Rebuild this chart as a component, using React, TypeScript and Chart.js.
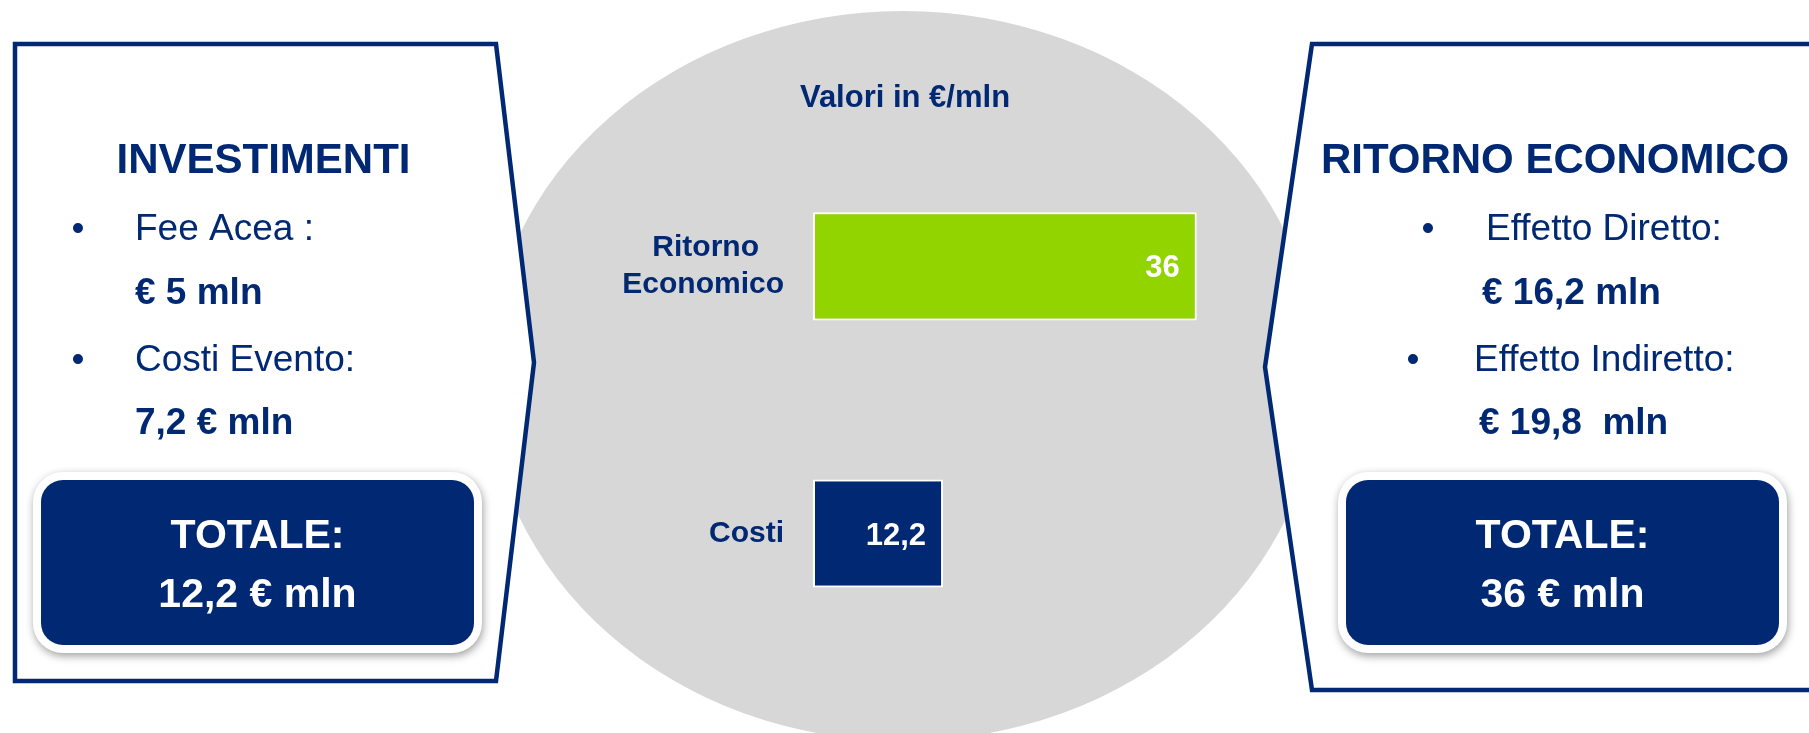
import React, { useEffect, useRef } from 'react';
import { Chart, registerables } from 'chart.js';

Chart.register(...registerables);

// ---- Data ----
const categories: (string | string[])[] = [['Ritorno', 'Economico'], 'Costi'];
const values: number[] = [36, 12.2];
const barColors: string[] = ['#92D400', '#002873'];
const axisMin = 0;
const axisMax = 40;

const unitLabel = 'Valori in €/mln';

const leftTitle = 'INVESTIMENTI';
const leftBullets: string[] = ['Fee Acea :', 'Costi Evento:'];
const leftAmounts: string[] = ['€ 5 mln', '7,2 € mln'];
const leftTotal: string[] = ['TOTALE:', '12,2 € mln'];

const rightTitle = 'RITORNO ECONOMICO';
const rightBullets: string[] = ['Effetto Diretto:', 'Effetto Indiretto:'];
const rightAmounts: string[] = ['€ 16,2 mln', '€ 19,8  mln'];
const rightTotal: string[] = ['TOTALE:', '36 € mln'];

// ---- Style ----
const W = 1809;
const H = 733;
const NAVY = '#002873';
const GRAY = '#D7D7D7';
const FONT = '"Liberation Sans", Arial, Helvetica, sans-serif';
const TICK_SIZE = 30;

const fmt = (v: number) => String(v).replace('.', ',');

function font(size: number, bold: boolean) {
  return `${bold ? 'bold ' : ''}${size}px ${FONT}`;
}

// centre the lines of a multi-line category label on each other
function centreLines(label: string | string[]): string | string[] {
  if (!Array.isArray(label)) return label;
  const c = document.createElement('canvas').getContext('2d')!;
  c.font = font(TICK_SIZE, true);
  const widths = label.map((l) => c.measureText(l).width);
  const max = Math.max(...widths);
  const sp = c.measureText(' ').width;
  return label.map((l, i) => l + ' '.repeat(Math.max(0, Math.round((max - widths[i]) / 2 / sp))));
}

// draw text with a given cap-centre y
function txt(ctx: CanvasRenderingContext2D, s: string, x: number, cy: number, size: number, bold: boolean, align: CanvasTextAlign, color: string) {
  ctx.font = font(size, bold);
  ctx.fillStyle = color;
  ctx.textAlign = align;
  ctx.textBaseline = 'alphabetic';
  ctx.fillText(s, x, cy + size * 0.358);
}

function totalBox(ctx: CanvasRenderingContext2D, x: number, y: number, w: number, h: number, lines: string[]) {
  ctx.save();
  ctx.shadowColor = 'rgba(0,0,0,0.38)';
  ctx.shadowBlur = 8;
  ctx.shadowOffsetX = 1;
  ctx.shadowOffsetY = 3;
  ctx.fillStyle = '#ffffff';
  ctx.beginPath();
  ctx.roundRect(x - 8, y - 8, w + 16, h + 16, 30);
  ctx.fill();
  ctx.restore();
  ctx.fillStyle = NAVY;
  ctx.beginPath();
  ctx.roundRect(x, y, w, h, 22);
  ctx.fill();
  const cx = x + w / 2;
  txt(ctx, lines[0], cx, y + 53, 41, true, 'center', '#ffffff');
  txt(ctx, lines[1], cx, y + 112, 41, true, 'center', '#ffffff');
}

const decorPlugin = {
  id: 'decor',
  beforeDraw(chart: any) {
    const ctx: CanvasRenderingContext2D = chart.ctx;
    ctx.save();
    ctx.fillStyle = '#ffffff';
    ctx.fillRect(0, 0, W, H);

    // grey ellipse
    ctx.fillStyle = GRAY;
    ctx.beginPath();
    ctx.ellipse(903, 376, 416, 365, 0, 0, Math.PI * 2);
    ctx.fill();

    // panels
    ctx.lineWidth = 4.5;
    ctx.strokeStyle = NAVY;
    ctx.lineJoin = 'miter';
    ctx.fillStyle = '#ffffff';
    ctx.beginPath();
    ctx.moveTo(15, 44);
    ctx.lineTo(496, 44);
    ctx.lineTo(534, 362.5);
    ctx.lineTo(496, 681);
    ctx.lineTo(15, 681);
    ctx.closePath();
    ctx.fill();
    ctx.stroke();

    ctx.beginPath();
    ctx.moveTo(1312, 44);
    ctx.lineTo(1830, 44);
    ctx.lineTo(1830, 690);
    ctx.lineTo(1312, 690);
    ctx.lineTo(1265, 367);
    ctx.closePath();
    ctx.fill();
    ctx.stroke();

    // left panel texts
    txt(ctx, leftTitle, 263.5, 158, 42, true, 'center', NAVY);
    txt(ctx, '•', 78, 227, 37, false, 'center', NAVY);
    txt(ctx, leftBullets[0], 135, 227, 37, false, 'left', NAVY);
    txt(ctx, leftAmounts[0], 135, 291, 37, true, 'left', NAVY);
    txt(ctx, '•', 78, 358, 37, false, 'center', NAVY);
    txt(ctx, leftBullets[1], 135, 358, 37, false, 'left', NAVY);
    txt(ctx, leftAmounts[1], 135, 421, 37, true, 'left', NAVY);
    totalBox(ctx, 41, 480, 433, 165, leftTotal);

    // right panel texts
    txt(ctx, rightTitle, 1555, 158, 42, true, 'center', NAVY);
    txt(ctx, '•', 1428, 227, 37, false, 'center', NAVY);
    txt(ctx, rightBullets[0], 1486, 227, 37, false, 'left', NAVY);
    txt(ctx, rightAmounts[0], 1482, 291, 37, true, 'left', NAVY);
    txt(ctx, '•', 1413, 358, 37, false, 'center', NAVY);
    txt(ctx, rightBullets[1], 1474, 358, 37, false, 'left', NAVY);
    txt(ctx, rightAmounts[1], 1479, 421, 37, true, 'left', NAVY);
    totalBox(ctx, 1346, 480, 433, 165, rightTotal);

    // unit label
    txt(ctx, unitLabel, 905, 95.5, 31, true, 'center', NAVY);
    ctx.restore();
  },
  afterDatasetsDraw(chart: any) {
    const ctx: CanvasRenderingContext2D = chart.ctx;
    const meta = chart.getDatasetMeta(0);
    ctx.save();
    meta.data.forEach((bar: any, i: number) => {
      const p = bar.getProps(['x', 'y'], true);
      txt(ctx, fmt(values[i]), p.x - 17, p.y, 31, true, 'right', '#ffffff');
    });
    ctx.restore();
  },
};

export default function App() {
  const ref = useRef<HTMLCanvasElement | null>(null);
  useEffect(() => {
    document.body.style.margin = '0';
    document.body.style.overflow = 'hidden';
    const canvas = ref.current!;
    const chart = new Chart(canvas, {
      type: 'bar',
      data: {
        labels: categories as any,
        datasets: [
          {
            data: values,
            backgroundColor: barColors,
            borderColor: '#ffffff',
            borderWidth: 2,
            borderSkipped: false,
            categoryPercentage: 1,
            barPercentage: 0.405,
          } as any,
        ],
      },
      options: {
        indexAxis: 'y',
        responsive: false,
        animation: false,
        devicePixelRatio: 1,
        events: [],
        layout: { padding: { left: 513, right: 569.6, top: 132.75, bottom: 57.25 } },
        scales: {
          x: { display: false, min: axisMin, max: axisMax },
          y: {
            afterFit: (s: any) => {
              s.width = 300;
            },
            grid: { display: false, drawTicks: false },
            border: { display: false },
            ticks: {
              color: NAVY,
              padding: 29,
              crossAlign: 'near',
              callback: (_v: any, i: number) => centreLines(categories[i]),
              font: { family: FONT, size: TICK_SIZE, weight: 'bold', lineHeight: 1.23 },
            },
          },
        },
        plugins: {
          legend: { display: false },
          tooltip: { enabled: false },
          title: { display: false },
        },
      } as any,
      plugins: [decorPlugin],
    });
    return () => chart.destroy();
  }, []);
  return (
    <div style={{ position: 'absolute', left: 0, top: 0, width: W, height: H }}>
      <canvas ref={ref} width={W} height={H} style={{ display: 'block', width: W, height: H }} />
    </div>
  );
}
